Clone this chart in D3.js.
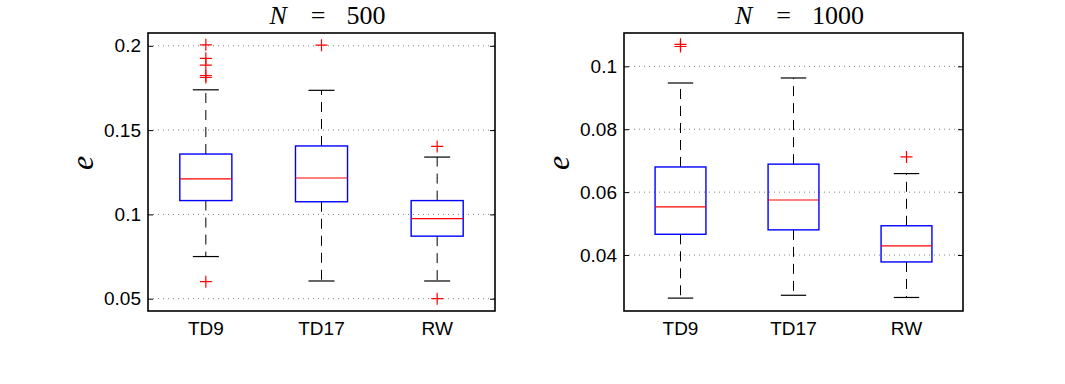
<!DOCTYPE html>
<html>
<head>
<meta charset="utf-8">
<script src="https://cdn.jsdelivr.net/npm/d3@7"></script>
<style>
  body { margin: 0; background: #fff; }
  svg { display: block; }
  .tick text { font-family: "Liberation Sans", Arial, sans-serif; font-size: 19px; fill: #000; }
  .xlab { font-family: "Liberation Sans", Arial, sans-serif; font-size: 19px; fill: #000; }
  .title, .ylab { font-family: "Liberation Serif", "Times New Roman", serif; fill: #000; }
</style>
</head>
<body>
<script>
var groups = ['TD9', 'TD17', 'RW']

// N = 500
var n500_q1 = [0.1082, 0.1075, 0.0871]
var n500_median = [0.1211, 0.1216, 0.0975]
var n500_q3 = [0.1358, 0.1406, 0.1082]
var n500_lo = [0.0750, 0.0605, 0.0605]
var n500_hi = [0.1739, 0.1736, 0.1340]
var n500_outliers = [[0.2006, 0.1926, 0.1885, 0.1823, 0.1812, 0.0601], [0.2004], [0.1403, 0.0500]]
var n500_ticks = [0.05, 0.1, 0.15, 0.2]
var n500_ylim = [0.0427, 0.2076]

// N = 1000
var n1000_q1 = [0.0466, 0.0480, 0.0378]
var n1000_median = [0.0553, 0.0575, 0.0429]
var n1000_q3 = [0.0680, 0.0689, 0.0493]
var n1000_lo = [0.0263, 0.0272, 0.0265]
var n1000_hi = [0.0947, 0.0963, 0.0659]
var n1000_outliers = [[0.1070, 0.1063], [], [0.0712]]
var n1000_ticks = [0.04, 0.06, 0.08, 0.1]
var n1000_ylim = [0.0222, 0.1106]

var width = 1065, height = 384

var svg = d3.select('body').append('svg')
  .attr('width', width)
  .attr('height', height)

function panel(opts) {
  var w = opts.right - opts.left,
      h = opts.bottom - opts.top
  var g = svg.append('g')
    .attr('transform', 'translate(' + opts.left + ',' + opts.top + ')')

  var x = d3.scalePoint().domain(groups).range([0, w]).padding(0.5)
  var y = d3.scaleLinear().domain(opts.ylim).range([h, 0])
  var boxW = x.step() * 0.45

  // dotted grid
  g.selectAll('line.grid')
    .data(opts.ticks)
    .enter().append('line')
    .attr('class', 'grid')
    .attr('x1', 0).attr('x2', w)
    .attr('y1', function(d) { return y(d) }).attr('y2', function(d) { return y(d) })
    .style('stroke', '#808080')
    .style('stroke-width', 1)
    .style('stroke-dasharray', '1,4')

  var yl = g.append('g')
    .call(d3.axisLeft(y).tickValues(opts.ticks).tickSize(-5).tickPadding(7).tickFormat(function(d) { return String(d) }))
  yl.select('.domain').remove()
  yl.selectAll('line').style('stroke', '#000')

  var yr = g.append('g')
    .attr('transform', 'translate(' + w + ',0)')
    .call(d3.axisRight(y).tickValues(opts.ticks).tickSize(-5).tickFormat(''))
  yr.select('.domain').remove()
  yr.selectAll('line').style('stroke', '#000')

  var boxes = g.selectAll('g.box')
    .data(groups)
    .enter().append('g')
    .attr('class', 'box')
    .attr('transform', function(d) { return 'translate(' + x(d) + ',0)' })

  // whiskers
  boxes.append('line')
    .attr('y1', function(d, i) { return y(opts.q3[i]) })
    .attr('y2', function(d, i) { return y(opts.hi[i]) })
    .style('stroke', '#000').style('stroke-width', 1).style('stroke-dasharray', '10,7')
  boxes.append('line')
    .attr('y1', function(d, i) { return y(opts.q1[i]) })
    .attr('y2', function(d, i) { return y(opts.lo[i]) })
    .style('stroke', '#000').style('stroke-width', 1).style('stroke-dasharray', '10,7')
  boxes.append('line')
    .attr('x1', -boxW / 4).attr('x2', boxW / 4)
    .attr('y1', function(d, i) { return y(opts.hi[i]) })
    .attr('y2', function(d, i) { return y(opts.hi[i]) })
    .style('stroke', '#000').style('stroke-width', 1.2)
  boxes.append('line')
    .attr('x1', -boxW / 4).attr('x2', boxW / 4)
    .attr('y1', function(d, i) { return y(opts.lo[i]) })
    .attr('y2', function(d, i) { return y(opts.lo[i]) })
    .style('stroke', '#000').style('stroke-width', 1.2)

  boxes.append('rect')
    .attr('x', -boxW / 2)
    .attr('width', boxW)
    .attr('y', function(d, i) { return y(opts.q3[i]) })
    .attr('height', function(d, i) { return y(opts.q1[i]) - y(opts.q3[i]) })
    .style('fill', 'none')
    .style('stroke', '#0000ff')
    .style('stroke-width', 1.4)

  boxes.append('line')
    .attr('x1', -boxW / 2).attr('x2', boxW / 2)
    .attr('y1', function(d, i) { return y(opts.median[i]) })
    .attr('y2', function(d, i) { return y(opts.median[i]) })
    .style('stroke', '#ff0000').style('stroke-width', 1.2)

  boxes.each(function(d, i) {
    d3.select(this).selectAll('path.out')
      .data(opts.outliers[i])
      .enter().append('path')
      .attr('class', 'out')
      .attr('d', function(v) {
        var c = y(v), s = 6
        return 'M' + (-s) + ',' + c + 'H' + s + 'M0,' + (c - s) + 'V' + (c + s)
      })
      .style('stroke', '#ff0000').style('stroke-width', 1.2).style('fill', 'none')
  })

  // frame
  g.append('rect')
    .attr('width', w).attr('height', h)
    .style('fill', 'none').style('stroke', '#000').style('stroke-width', 1.6)

  g.selectAll('text.xlab')
    .data(groups)
    .enter().append('text')
    .attr('class', 'xlab')
    .attr('x', function(d) { return x(d) })
    .attr('y', h + 24)
    .attr('text-anchor', 'middle')
    .text(function(d) { return d })

  var t = g.append('text')
    .attr('class', 'title')
    .attr('x', w / 2 + 6)
    .attr('y', -9)
    .attr('text-anchor', 'middle')
    .style('font-size', '26px')
  t.append('tspan').style('font-style', 'italic').text('N')
  t.append('tspan').attr('dx', 24).text('=')
  t.append('tspan').attr('dx', 21).text(opts.label)

  g.append('text')
    .attr('class', 'ylab')
    .attr('transform', 'translate(' + opts.ylabX + ',' + (h / 2 - 9) + ')rotate(-90)')
    .attr('text-anchor', 'middle')
    .style('font-size', '32px')
    .style('font-style', 'italic')
    .text('e')
}

panel({
  left: 148, right: 495, top: 33, bottom: 311,
  ylim: n500_ylim, ticks: n500_ticks,
  q1: n500_q1, median: n500_median, q3: n500_q3, lo: n500_lo, hi: n500_hi, outliers: n500_outliers,
  label: '500', ylabX: -55
})
panel({
  left: 624, right: 963, top: 33, bottom: 311,
  ylim: n1000_ylim, ticks: n1000_ticks,
  q1: n1000_q1, median: n1000_median, q3: n1000_q3, lo: n1000_lo, hi: n1000_hi, outliers: n1000_outliers,
  label: '1000', ylabX: -55
})
</script>
</body>
</html>
